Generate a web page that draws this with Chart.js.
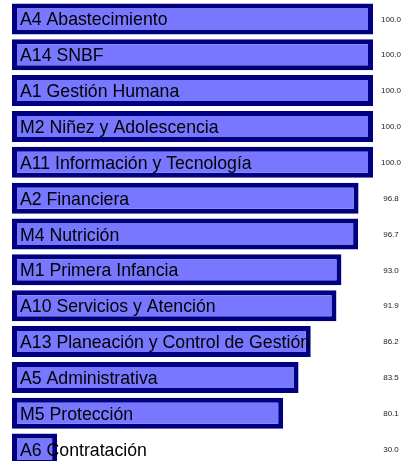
<!DOCTYPE html>
<html>
<head>
<meta charset="utf-8">
<script src="https://cdn.jsdelivr.net/npm/chart.js@4"></script>
<style>
  html, body { margin: 0; padding: 0; background: #ffffff; overflow: hidden; }
  #wrap { position: relative; width: 407px; height: 468px; }
</style>
</head>
<body>
<div id="wrap"><canvas id="c"></canvas></div>
<script>
const categories = [
  "A4 Abastecimiento",
  "A14 SNBF",
  "A1 Gestión Humana",
  "M2 Niñez y Adolescencia",
  "A11 Información y Tecnología",
  "A2 Financiera",
  "M4 Nutrición",
  "M1 Primera Infancia",
  "A10 Servicios y Atención",
  "A13 Planeación y Control de Gestión",
  "A5 Administrativa",
  "M5 Protección",
  "A6 Contratación"
];
const values = [100.0, 100.0, 100.0, 100.0, 100.0, 96.8, 96.7, 93.0, 91.9, 86.2, 83.5, 80.1, 30.0];
const valueLabels = ["100.0", "100.0", "100.0", "100.0", "100.0", "96.8", "96.7", "93.0", "91.9", "86.2", "83.5", "80.1", "30.0"];
const axisMin = 20;
const axisMax = 100;

const labelPlugin = {
  id: 'barLabels',
  afterDatasetsDraw(chart) {
    const ctx = chart.ctx;
    const meta = chart.getDatasetMeta(0);
    const area = chart.chartArea;
    ctx.save();
    meta.data.forEach((bar, i) => {
      const y = bar.y;
      ctx.font = '17.7px "Liberation Sans", Arial, sans-serif';
      ctx.fillStyle = '#000000';
      ctx.textAlign = 'left';
      ctx.textBaseline = 'alphabetic';
      ctx.fillText(categories[i], area.left + 8, y + 6.5);
      ctx.font = '8px "Liberation Sans", Arial, sans-serif';
      ctx.fillStyle = '#222222';
      ctx.textAlign = 'center';
      ctx.textBaseline = 'middle';
      ctx.fillText(valueLabels[i], area.right + 18, y + 0.5);
    });
    ctx.restore();
  }
};

new Chart(document.getElementById('c'), {
  type: 'bar',
  data: {
    labels: categories,
    datasets: [{
      data: values,
      base: axisMin,
      backgroundColor: '#7777ff',
      borderColor: '#000080',
      borderWidth: 5,
      borderSkipped: false,
      barPercentage: 0.865,
      categoryPercentage: 1.0,
      clip: false
    }]
  },
  options: {
    indexAxis: 'y',
    responsive: true,
    maintainAspectRatio: false,
    animation: false,
    layout: { padding: { left: 12, right: 34, top: 1, bottom: 1 } },
    plugins: { legend: { display: false }, tooltip: { enabled: false } },
    scales: {
      x: { display: false, min: axisMin, max: axisMax },
      y: { display: false }
    }
  },
  plugins: [labelPlugin]
});
</script>
</body>
</html>
